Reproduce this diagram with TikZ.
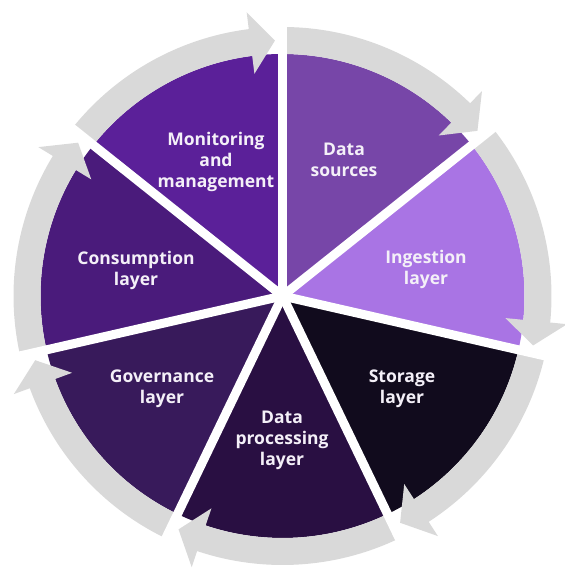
\documentclass[tikz,border=0pt]{standalone}
\usepackage{fontspec}
\setmainfont{Open Sans}
\definecolor{cDS}{HTML}{7746A8}
\definecolor{cIN}{HTML}{A974E4}
\definecolor{cST}{HTML}{110B1D}
\definecolor{cDP}{HTML}{290F42}
\definecolor{cGO}{HTML}{381A5B}
\definecolor{cCO}{HTML}{4A1B7B}
\definecolor{cMO}{HTML}{5B2099}
\definecolor{band}{HTML}{D9D9D9}
\definecolor{txt}{HTML}{F4F0F8}
\tikzset{
  lbl/.style={text=txt, align=center, inner sep=0pt,
    font=\bfseries\fontsize{17.5}{21}\selectfont},
}
\begin{document}
\begin{tikzpicture}[x=1pt,y=1pt]
\useasboundingbox (0,0) rectangle (564,569);
\coordinate (O) at (282.5,273);
\def\Rw{242}
\def\Ro{269}
% wedges
\foreach \a/\c in {90/cDS, 38.5714/cIN, -12.8571/cST, -64.2857/cDP, -115.7143/cGO, -167.1429/cCO, -218.5714/cMO}{
  \pgfmathsetmacro{\b}{\a-51.4286}
  \fill[\c, shift={(O)}] (0,0) -- (\b:\Rw) arc[start angle=\b, end angle=\a, radius=\Rw] -- cycle;
}
% bands with arrowheads
\foreach \a in {90, 38.5714, -12.8571, -64.2857, -115.7143, -167.1429, -218.5714}{
  \pgfmathsetmacro{\b}{\a-51.4286}
  \pgfmathsetmacro{\t}{\b+1.7}
  \pgfmathsetmacro{\h}{\b+7.2}
  \fill[band, shift={(O)}] (\a:\Ro) arc[start angle=\a, end angle=\h, radius=\Ro]
     -- (\h:286) -- (\t:255.5) -- (\h:224) -- (\h:\Rw)
     arc[start angle=\h, end angle=\a, radius=\Rw] -- cycle;
}
% white gaps
\foreach \a in {90, 38.5714, -12.8571, -64.2857, -115.7143, -167.1429, -218.5714}{
  \draw[white, line width=9pt, shift={(O)}] (0,0) -- (\a:292);
}
% labels
\node[lbl] (mo) at (216,407) {Monitoring\\and\\management};
\node[lbl] (ds) at (344,409) {Data\\sources};
\node[lbl] (in) at (426,300) {Ingestion\\layer};
\node[lbl] (st) at (402,180) {Storage\\layer};
\node[lbl] (dp) at (282,129) {Data\\processing\\layer};
\node[lbl] (go) at (162,180) {Governance\\layer};
\node[lbl] (co) at (136,299) {Consumption\\layer};
\end{tikzpicture}
\end{document}
